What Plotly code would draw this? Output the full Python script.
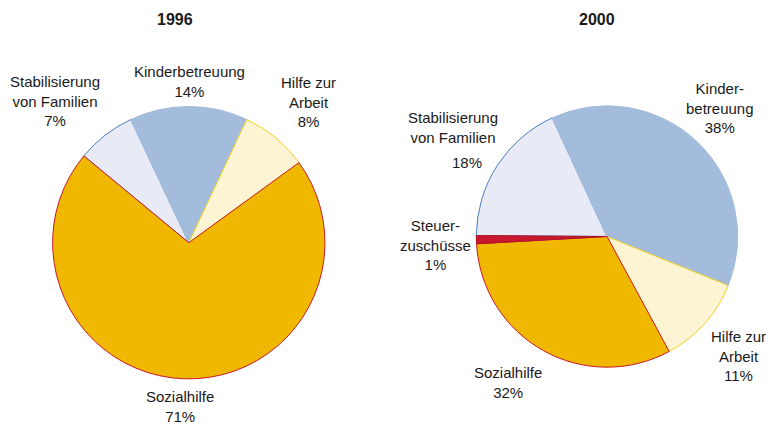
import plotly.graph_objects as go

# ---- data ----
years = ["1996", "2000"]

labels_1996 = ["Stabilisierung von Familien", "Kinderbetreuung", "Hilfe zur Arbeit", "Sozialhilfe"]
values_1996 = [7, 14, 8, 71]

labels_2000 = ["Stabilisierung von Familien", "Kinderbetreuung", "Hilfe zur Arbeit", "Sozialhilfe", "Steuerzuschüsse"]
values_2000 = [18, 38, 11, 32, 1]

fill_colors = {
    "Stabilisierung von Familien": "#E8EAF5",
    "Kinderbetreuung": "#A4BCDC",
    "Hilfe zur Arbeit": "#FDF4D4",
    "Sozialhilfe": "#F0B800",
    "Steuerzuschüsse": "#C8182E",
}
line_colors = {
    "Stabilisierung von Familien": "#4A7EC4",
    "Kinderbetreuung": "#A4BCDC",
    "Hilfe zur Arbeit": "#F2D21C",
    "Sozialhilfe": "#C8182E",
    "Steuerzuschüsse": "#B01428",
}

W, H = 772, 424
FONT = "Liberation Sans, Arial, sans-serif"

fig = go.Figure()

fig.add_trace(go.Pie(
    labels=labels_1996, values=values_1996, sort=False, direction="clockwise",
    rotation=-50.4, textinfo="none", hoverinfo="label+percent",
    marker=dict(colors=[fill_colors[l] for l in labels_1996],
                line=dict(color=[line_colors[l] for l in labels_1996], width=1)),
    domain=dict(x=[0.0681, 0.4210], y=[0.1064, 0.7488]),
    showlegend=False,
))
fig.add_trace(go.Pie(
    labels=labels_2000, values=values_2000, sort=False, direction="clockwise",
    rotation=-89.6, textinfo="none", hoverinfo="label+percent",
    marker=dict(colors=[fill_colors[l] for l in labels_2000],
                line=dict(color=[line_colors[l] for l in labels_2000], width=1)),
    domain=dict(x=[0.6170, 0.9556], y=[0.1340, 0.7505]),
    showlegend=False,
))

def px(x, y):
    return x / W, 1 - y / H

annots = [
    # titles
    (175, 20, "<b>1996</b>", 16),
    (597, 20, "<b>2000</b>", 16),
    # 1996 labels
    (55, 101, "Stabilisierung<br>von Familien<br>7%", 15),
    (189, 81, "Kinderbetreuung<br>14%", 15),
    (308, 102, "Hilfe zur<br>Arbeit<br>8%", 15),
    (180, 406, "Sozialhilfe<br>71%", 15),
    # 2000 labels
    (720, 108, "Kinder-<br>betreuung<br>38%", 15),
    (453, 128, "Stabilisierung<br>von Familien", 15),
    (467, 162, "18%", 15),
    (435, 245, "Steuer-<br>zuschüsse<br>1%", 15),
    (738, 356, "Hilfe zur<br>Arbeit<br>11%", 15),
    (508, 382, "Sozialhilfe<br>32%", 15),
]
for x, y, t, s in annots:
    ax, ay = px(x, y)
    fig.add_annotation(x=ax, y=ay, xref="paper", yref="paper", text=t,
                       showarrow=False, xanchor="center", yanchor="middle",
                       align="center", font=dict(family=FONT, size=s, color="#1a1a1a"))

fig.update_layout(
    width=W, height=H, margin=dict(l=0, r=0, t=0, b=0),
    paper_bgcolor="white", plot_bgcolor="white",
    font=dict(family=FONT),
)

fig.write_html("out.html", config={"displayModeBar": False},
               post_script="document.body.style.margin='0px';document.body.style.overflow='hidden';")
